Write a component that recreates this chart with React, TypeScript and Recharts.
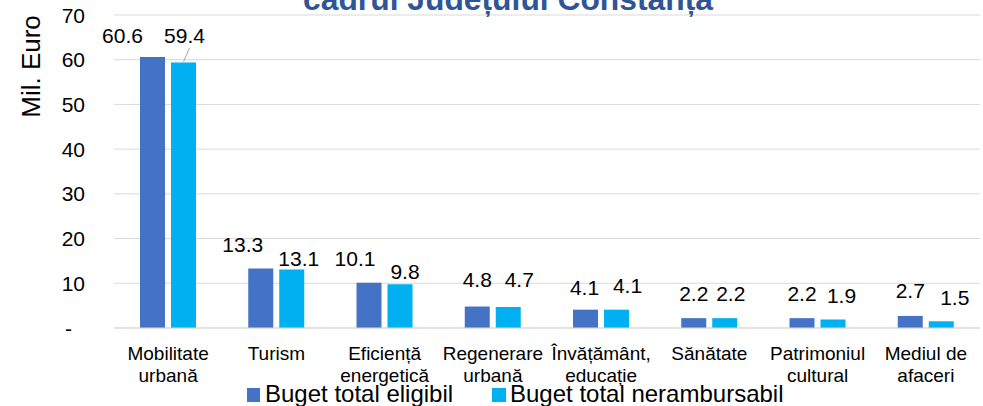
import React from 'react';
import { BarChart, Bar, XAxis, YAxis, CartesianGrid, LabelList } from 'recharts';

const categories = [
  'Mobilitate urbană',
  'Turism',
  'Eficiență energetică',
  'Regenerare urbană',
  'Învățământ, educație',
  'Sănătate',
  'Patrimoniul cultural',
  'Mediul de afaceri',
];
const bugetEligibil = [60.6, 13.3, 10.1, 4.8, 4.1, 2.2, 2.2, 2.7];
const bugetNerambursabil = [59.4, 13.1, 9.8, 4.7, 4.1, 2.2, 1.9, 1.5];
const yTicks = [0, 10, 20, 30, 40, 50, 60, 70];
const seriesNames = ['Buget total eligibil', 'Buget total nerambursabil'];
const titleText = 'cadrul Județului Constanța';
const yAxisTitle = 'Mil. Euro';

const COLORS = ['#4472C4', '#00B0F0'];
const FONT = '"Liberation Sans", Arial, sans-serif';

// label placement tweaks (as in the original, labels were nudged to avoid overlap)
const eligDx = [-30, -18, -14, 0, -1, 0, 0, 0];
const eligDy = [-22, -24.5, -24.5, -27, -22.5, -25, -25, -25.5];
const neramDx = [1, 7, 5, 11, 11, 6, 8.5, 13.5];
const neramDy = [-27, -11, -13, -27, -24.5, -25, -24.5, -24];

const data = categories.map((name, i) => ({
  name,
  eligibil: bugetEligibil[i],
  nerambursabil: bugetNerambursabil[i],
}));

const makeLabel = (dxs: number[], dys: number[], leader: boolean) => (p: any) => {
  const { x, y, width, value, index } = p;
  const cx = Number(x) + Number(width) / 2;
  const top = Number(y);
  return (
    <g>
      {leader && index === 0 ? (
        <line x1={cx + 6} y1={top - 14.5} x2={cx} y2={top - 0.5} stroke="#a6a6a6" strokeWidth={1} />
      ) : null}
      <text
        x={cx + dxs[index]}
        y={top + dys[index]}
        textAnchor="middle"
        dominantBaseline="central"
        fontSize={21}
        fontFamily={FONT}
        fill="#000"
      >
        {Number(value).toFixed(1)}
      </text>
    </g>
  );
};

const XTick = (p: any) => {
  const { x, y, payload } = p;
  const s: string = payload.value;
  const k = s.lastIndexOf(' ');
  const lines = k > 0 ? [s.slice(0, k), s.slice(k + 1)] : [s];
  return (
    <text x={x} y={y} textAnchor="middle" fontSize={19} fontFamily={FONT} fill="#000">
      {lines.map((l, i) => (
        <tspan key={i} x={x} y={Number(y) + 32 + i * 22}>
          {l}
        </tspan>
      ))}
    </text>
  );
};

const YTick = (p: any) => {
  const { x, y, payload } = p;
  const isZero = payload.value === 0;
  return (
    <text
      x={Number(x) - (isZero ? 42 : 29)}
      y={y}
      textAnchor="end"
      dominantBaseline="central"
      fontSize={21}
      fontFamily={FONT}
      fill="#000"
    >
      {isZero ? '-' : String(payload.value)}
    </text>
  );
};

export default function App() {
  return (
    <div style={{ position: 'absolute', left: 0, top: 0, width: 983, height: 406, background: '#fff' }}>
      <BarChart
        width={983}
        height={406}
        data={data}
        margin={{ top: 15, right: 3, left: 0, bottom: 30 }}
        barSize={25}
        barGap={6}
      >
        <CartesianGrid vertical={false} stroke="#d9d9d9" />
        <XAxis
          dataKey="name"
          height={48}
          tickLine={false}
          tickSize={0}
          tickMargin={0}
          axisLine={{ stroke: '#d9d9d9' }}
          tick={<XTick />}
          interval={0}
        />
        <YAxis
          width={114}
          domain={[0, 70]}
          ticks={yTicks}
          axisLine={false}
          tickLine={false}
          tickSize={0}
          tickMargin={0}
          tick={<YTick />}
          interval={0}
        />
        <Bar dataKey="eligibil" name={seriesNames[0]} fill={COLORS[0]} isAnimationActive={false}>
          <LabelList dataKey="eligibil" content={makeLabel(eligDx, eligDy, false)} />
        </Bar>
        <Bar dataKey="nerambursabil" name={seriesNames[1]} fill={COLORS[1]} isAnimationActive={false}>
          <LabelList dataKey="nerambursabil" content={makeLabel(neramDx, neramDy, true)} />
        </Bar>
      </BarChart>
      <svg
        width={983}
        height={406}
        style={{ position: 'absolute', left: 0, top: 0, pointerEvents: 'none' }}
      >
        <text x={508} y={10} textAnchor="middle" fontSize={31.8} fontWeight="bold" fontFamily={FONT} fill="#2F5597">
          {titleText}
        </text>
        <text
          x={31}
          y={66.5}
          transform="rotate(-90, 31, 66.5)"
          textAnchor="middle"
          dominantBaseline="central"
          fontSize={26}
          fontFamily={FONT}
          fill="#000"
        >
          {yAxisTitle}
        </text>
        <rect x={247} y={388} width={13} height={14} fill={COLORS[0]} />
        <text x={265} y={402} fontSize={24} fontFamily={FONT} fill="#000">
          {seriesNames[0]}
        </text>
        <rect x={492} y={388} width={14} height={14} fill={COLORS[1]} />
        <text x={510} y={402} fontSize={24} fontFamily={FONT} fill="#000">
          {seriesNames[1]}
        </text>
      </svg>
    </div>
  );
}
